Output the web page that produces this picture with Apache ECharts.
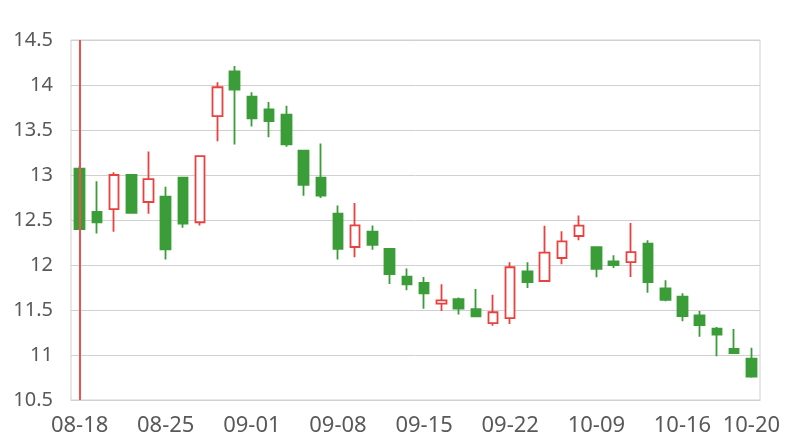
<!DOCTYPE html>
<html>
<head>
<meta charset="utf-8">
<script src="https://cdn.jsdelivr.net/npm/echarts@6/dist/echarts.min.js"></script>
<style>html,body{margin:0;padding:0;background:#fff}#c{width:800px;height:440px}</style>
</head>
<body>
<div id="c"></div>
<script>
var categories = ['08-18','08-21','08-22','08-23','08-24','08-25','08-28','08-29','08-30','08-31',
  '09-01','09-04','09-05','09-06','09-07','09-08','09-11','09-12','09-13','09-14',
  '09-15','09-18','09-19','09-20','09-21','09-22','09-25','09-26','09-27','09-28',
  '10-09','10-10','10-11','10-12','10-13','10-16','10-17','10-18','10-19','10-20'];
var opens  = [13.07,12.59,12.62,13.00,12.70,12.76,12.97,12.475,13.655,14.15,
  13.87,13.73,13.67,13.27,12.97,12.57,12.20,12.37,12.18,11.87,
  11.80,11.57,11.62,11.51,11.355,11.41,11.93,11.822,12.078,12.322,
  12.197,12.04,12.033,12.237,11.74,11.648,11.44,11.293,11.067,10.959];
var closes = [12.40,12.475,13.00,12.58,12.955,12.175,12.46,13.21,13.975,13.95,
  13.63,13.60,13.34,12.89,12.77,12.18,12.44,12.225,11.90,11.785,
  11.685,11.607,11.515,11.43,11.475,11.975,11.81,12.137,12.263,12.437,
  11.956,12.00,12.144,11.81,11.614,11.433,11.333,11.226,11.022,10.759];
var lows   = [12.40,12.35,12.37,12.58,12.57,12.06,12.415,12.44,13.375,13.34,
  13.54,13.42,13.315,12.77,12.745,12.06,12.085,12.17,11.79,11.72,
  11.515,11.49,11.45,11.42,11.325,11.344,11.744,11.822,12.007,12.274,
  11.863,11.967,11.867,11.693,11.597,11.375,11.204,10.985,11.015,10.748];
var highs  = [13.10,12.93,13.03,13.01,13.26,12.87,12.98,13.22,14.03,14.21,
  13.92,13.81,13.77,13.27,13.35,12.66,12.69,12.44,12.18,11.96,
  11.867,11.785,11.64,11.733,11.67,12.03,12.03,12.437,12.375,12.55,
  12.197,12.108,12.467,12.274,11.83,11.685,11.49,11.311,11.289,11.081];
var yTicks = {min: 10.5, max: 14.5, step: 0.5};
var markedCategory = '08-18';

var candles = categories.map(function (c, i) {
  return [opens[i], closes[i], lows[i], highs[i]];
});
var lastIdx = categories.length - 1;
var RED = '#e8413f', GREEN = '#3a9d38', TXT = '#595959', GRID = '#d0d0d0';

var chart = echarts.init(document.getElementById('c'), null, {renderer: 'canvas'});
chart.setOption({
  animation: false,
  grid: {left: 71, right: 40, top: 40, bottom: 40, show: true, borderColor: GRID, borderWidth: 1},
  xAxis: {
    type: 'category',
    data: categories,
    boundaryGap: true,
    axisLine: {show: true, lineStyle: {color: GRID}},
    axisTick: {show: false},
    axisLabel: {
      interval: function (i) { return i % 5 === 0 || i === lastIdx; },
      color: TXT, fontSize: 22, fontFamily: 'Noto Sans', margin: 15
    },
    splitLine: {show: false}
  },
  yAxis: {
    type: 'value',
    min: yTicks.min, max: yTicks.max, interval: yTicks.step,
    axisLine: {show: false},
    axisTick: {show: false},
    axisLabel: {color: TXT, fontSize: 20, fontFamily: 'Noto Sans', margin: 18, padding: [3, 0, 0, 0]},
    splitLine: {show: true, lineStyle: {color: GRID, width: 1}}
  },
  series: [{
    type: 'candlestick',
    data: candles,
    barWidth: 10,
    itemStyle: {
      color: '#ffffff', color0: GREEN,
      borderColor: RED, borderColor0: GREEN, borderWidth: 1.8
    },
    markLine: {
      silent: true,
      symbol: ['none', 'none'],
      label: {show: false},
      lineStyle: {color: '#ea5252', type: 'solid', width: 2},
      data: [{xAxis: markedCategory}]
    }
  }]
});
</script>
</body>
</html>
